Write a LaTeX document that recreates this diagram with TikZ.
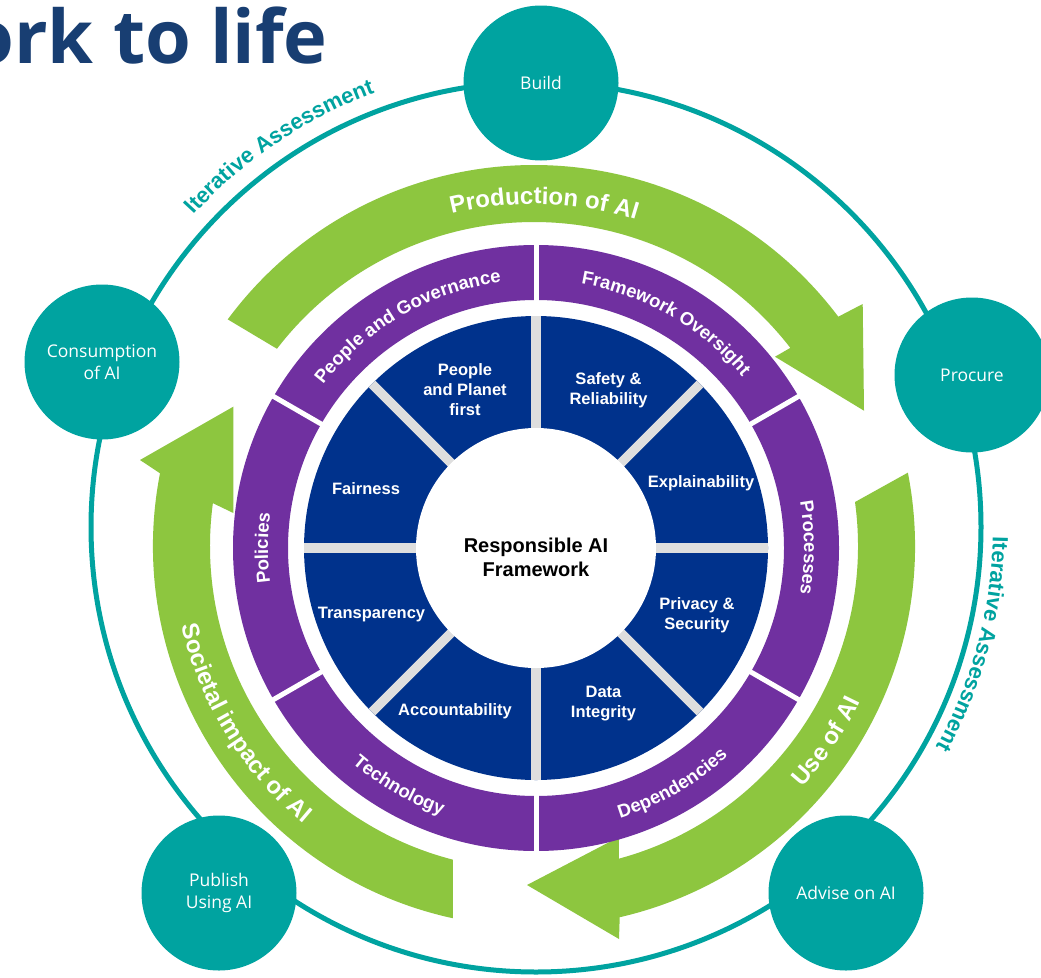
\documentclass[tikz,border=0pt]{standalone}
\usepackage{fontspec}
\setmainfont{Liberation Sans}
\newfontfamily\opensans{Open Sans}
\usetikzlibrary{decorations.text}
\definecolor{teal1}{RGB}{0,163,160}
\definecolor{green1}{RGB}{141,198,63}
\definecolor{purple1}{RGB}{112,48,160}
\definecolor{navy1}{RGB}{0,50,140}
\definecolor{sep1}{RGB}{222,222,222}
\definecolor{title1}{RGB}{24,62,114}
\newcommand{\purpfmt}{\bfseries\fontsize{18.5}{18.5}\selectfont\color{white}}
\newcommand{\greenfmt}{\bfseries\fontsize{24}{24}\selectfont\color{white}}
\newcommand{\tealfmt}{\bfseries\fontsize{22}{22}\selectfont\color{teal1}}
\tikzset{
  stage/.style={circle, fill=teal1, minimum size=155pt, inner sep=0pt, text=white,
    font=\opensans\fontsize{17.5}{22}\selectfont, align=center},
  sector/.style={text=white, font=\bfseries\fontsize{16.5}{20}\selectfont, align=center, inner sep=0pt},
  arctext/.style={decorate, decoration={text along path, text align=center, text={#1}}}
}
\begin{document}
\begin{tikzpicture}[x=1pt,y=1pt]
\useasboundingbox (0,0) rectangle (1041,-977);
\fill[white] (0,0) rectangle (1041,-977);
\coordinate (C) at (536,-548);
\coordinate (G) at (534,-546);
\coordinate (T) at (536,-527);

% title
\node[anchor=base east, font=\opensans\bfseries\fontsize{74}{74}\selectfont, text=title1, inner sep=0pt] (title) at (328,-63) {ork to life};

% teal ring and stages
\draw[teal1, line width=5pt] (T) circle[radius=445pt];
\node[stage] (build) at (541,-83) {Build};
\node[stage] (procure) at (972,-375) {Procure};
\node[stage] (consume) at (102,-362) {Consumption\\of AI};
\node[stage] (publish) at (219,-893) {Publish\\Using AI};
\node[stage] (advise) at (846,-893) {Advise on AI};

\path[arctext={|\tealfmt|Iterative Assessment}] ([shift={(T)}]160:463pt) arc[start angle=160, end angle=88, radius=463pt];
\path[arctext={|\tealfmt|Iterative Assessment}] ([shift={(T)}]20:457pt) arc[start angle=20, end angle=-50, radius=457pt];

% green arrows
\fill[green1] ([shift={(G)}]143.5:381pt) arc[start angle=143.5, end angle=37, radius=381pt]
  -- (862.7,-304) -- (864,-410.7) -- (775,-356.7)
  -- ([shift={(G)}]37.7:324pt) arc[start angle=37.7, end angle=142.5, radius=324pt] -- cycle;
\fill[green1] ([shift={(G)}]11.1:381pt) arc[start angle=11.1, end angle=-77, radius=381pt]
  -- (619,-939) -- (527,-885) -- (619,-837)
  -- ([shift={(G)}]-74.8:324pt) arc[start angle=-74.8, end angle=7.8, radius=324pt] -- cycle;
\fill[green1] ([shift={(G)}]257.7:381pt) arc[start angle=257.7, end angle=169, radius=381pt]
  -- (140,-460) -- (233.3,-406.7) -- (233.3,-513)
  -- ([shift={(G)}]172.4:324pt) arc[start angle=172.4, end angle=255.5, radius=324pt] -- cycle;

\path[arctext={|\greenfmt|Production of AI}] ([shift={(G)}]133.3:342pt) arc[start angle=133.3, end angle=43.3, radius=342pt];
\path[arctext={|\greenfmt|Use of AI}] ([shift={(G)}]-78.7:361pt) arc[start angle=-78.7, end angle=11.3, radius=361pt];
\path[arctext={|\greenfmt|Societal impact of AI}] ([shift={(G)}]166.5:361pt) arc[start angle=166.5, end angle=256.5, radius=361pt];

% purple ring
\fill[purple1, even odd rule] (C) circle[radius=303pt] (C) circle[radius=248pt];
\foreach \a in {90,30,-30,-90,-150,150}
  \draw[white, line width=5pt] ([shift={(C)}]\a:244pt) -- ([shift={(C)}]\a:307pt);

\path[arctext={|\purpfmt|People and Governance}] ([shift={(C)}]165:268pt) arc[start angle=165, end angle=75, radius=268pt];
\path[arctext={|\purpfmt|Framework Oversight}] ([shift={(C)}]105:268pt) arc[start angle=105, end angle=15, radius=268pt];
\path[arctext={|\purpfmt|Processes}] ([shift={(C)}]45:268pt) arc[start angle=45, end angle=-45, radius=268pt];
\path[arctext={|\purpfmt|Policies}] ([shift={(C)}]225:268pt) arc[start angle=225, end angle=135, radius=268pt];
\path[arctext={|\purpfmt|Dependencies}] ([shift={(C)}]-105:283pt) arc[start angle=-105, end angle=-15, radius=283pt];
\path[arctext={|\purpfmt|Technology}] ([shift={(C)}]-165:283pt) arc[start angle=-165, end angle=-75, radius=283pt];

% blue ring
\fill[navy1] (C) circle[radius=232pt];
\foreach \a in {0,45,...,315}
  \draw[sep1, line width=9.5pt] (C) -- ([shift={(C)}]\a:232pt);
\fill[white] (C) circle[radius=120pt];

\node[sector] (ppl) at (465,-390) {People\\and Planet\\first};
\node[sector] (safety) at (608.5,-390) {Safety \&\\Reliability};
\node[sector] (expl) at (701,-483) {Explainability};
\node[sector] (priv) at (697,-615) {Privacy \&\\Security};
\node[sector] (data) at (603.5,-704) {Data\\Integrity};
\node[sector] (acc) at (455,-711) {Accountability};
\node[sector] (transp) at (371.5,-615) {Transparency};
\node[sector] (fair) at (366,-489) {Fairness};

\node[font=\bfseries\fontsize{20}{24}\selectfont, align=center, inner sep=0pt] (core) at (536,-557) {Responsible AI\\Framework};
\end{tikzpicture}
\end{document}
